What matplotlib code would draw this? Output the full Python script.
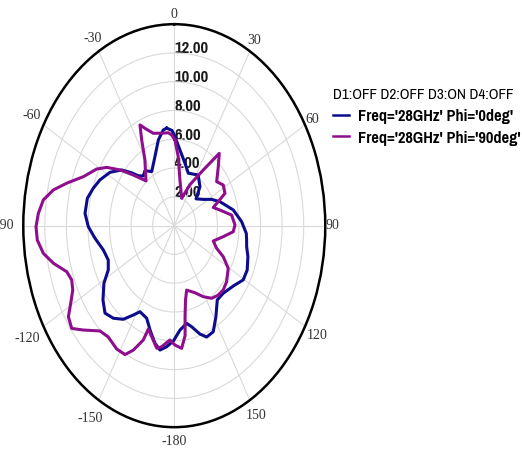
import numpy as np
import matplotlib
matplotlib.use("Agg")
import matplotlib.pyplot as plt
from matplotlib.lines import Line2D
from matplotlib.font_manager import FontProperties

# ---- data: gain pattern (theta in degrees, clockwise from top) ----
phi0_theta = [-5.9, -1.8, 0.6, 5.7, 12.9, 19.6, 32.2, 41.3, 47.3, 55.8, 62.2,
              68.5, 78.7, 87.4, 94.6, 98.4, 102.3, 107.5, 114.5, 120.5, 127.5,
              136.0, 142.3, 148.6, 153.9, 158.8, 162.5, 167.1, 170.4, 175.8,
              180.6, 184.8, 188.7, 192.4, 197.2, 201.7, 208.0, 211.5, 216.0,
              221.3, 226.6, 232.0, 238.5, 243.3, 248.7, 255.6, 263.2, 269.5,
              275.9, 283.3, 289.1, 294.8, 301.9, 308.5, 312.9, 316.1, 320.2,
              324.6, 330.9, 339.5, 346.1, 351.3]
phi0_gain = [6.81, 6.62, 6.18, 5.29, 4.45, 3.87, 4.16, 3.61, 2.75, 3.25, 3.92,
             4.55, 5.58, 6.25, 6.70, 6.78, 6.87, 7.16, 7.43, 7.42, 6.89,
             6.53, 6.52, 7.41, 8.21, 8.30, 7.89, 7.20, 6.88, 7.27,
             8.01, 8.44, 8.74, 8.36, 7.59, 6.92, 6.77, 7.28, 8.04,
             8.56, 8.84, 8.39, 7.65, 6.85, 6.57, 6.79, 7.40, 7.97,
             8.32, 8.28, 7.95, 7.59, 7.02, 6.22, 5.40, 4.82, 4.49,
             4.69, 4.30, 5.12, 6.14, 6.73]

phi90_theta = [0.6, 4.4, 9.4, 19.9, 27.0, 34.8, 39.7, 44.9, 52.1, 58.1, 64.4,
               67.7, 70.7, 75.6, 82.1, 89.5, 94.4, 99.5, 106.4, 111.8, 115.4,
               120.6, 128.7, 134.5, 140.0, 145.5, 151.4, 157.6, 165.6, 168.6,
               171.0, 172.5, 175.4, 179.6, 182.9, 187.9, 190.8, 195.2, 198.5,
               199.9, 203.7, 207.0, 211.9, 218.4, 223.3, 229.3, 233.1, 237.2,
               240.7, 244.6, 248.4, 252.2, 256.9, 261.0, 265.5, 269.7, 273.9,
               278.4, 282.5, 286.5, 292.0, 298.7, 302.9, 307.6, 312.8, 319.9,
               329.2, 333.1, 335.6, 338.1, 343.1, 349.7, 355.1, 357.8]
phi90_gain = [5.96, 4.81, 3.22, 2.02, 3.21, 4.71, 6.53, 5.78, 4.98, 5.35, 5.21,
              4.41, 3.83, 4.37, 5.37, 5.63, 5.48, 4.61, 3.77, 4.23, 5.03,
              5.81, 6.22, 6.37, 6.31, 6.12, 5.62, 5.04, 4.62, 5.27,
              6.40, 7.70, 8.55, 8.29, 7.95, 8.49, 8.67, 7.99, 7.57,
              8.45, 9.44, 10.05, 10.10, 9.86, 10.05, 11.12, 11.89, 11.68,
              11.01, 10.42, 10.23, 10.47, 11.51, 12.29, 12.74, 12.82, 12.63,
              12.27, 11.48, 10.40, 9.09, 8.20, 7.46, 6.35, 5.18, 4.07,
              5.32, 6.68, 7.69, 7.29, 6.71, 6.53, 6.48, 6.31]

series_labels = ["Freq='28GHz' Phi='0deg'", "Freq='28GHz' Phi='90deg'"]
series_colors = ["#0c0c8c", "#8e0e8e"]
legend_title = "D1:OFF D2:OFF D3:ON D4:OFF"

r_ticks = [2, 4, 6, 8, 10, 12]
r_max = 14
theta_ticks = [0, 30, 60, 90, 120, 150, 180, 210, 240, 270, 300, 330]
theta_tick_labels = ["0", "30", "60", "90", "120", "150", "-180",
                     "-150", "-120", "-90", "-60", "-30"]

SANS = ["Pragati Narrow", "Archivo Narrow", "PT Sans Narrow", "Liberation Sans"]
SERIF = ["Liberation Serif", "DejaVu Serif"]

fig = plt.figure(figsize=(5.22, 4.53), dpi=100)
ax = fig.add_axes([0.0446, 0.057, 0.5785, 0.8896], projection="polar")
ax.set_aspect("auto")
ax.set_theta_zero_location("N")
ax.set_theta_direction(-1)
ax.set_ylim(0, r_max)

# grid
ax.set_xticks(np.deg2rad(theta_ticks))
ax.set_xticks(np.deg2rad(np.arange(0, 360, 5)), minor=True)
ax.set_xticklabels([])
ax.set_yticks(r_ticks)
ax.set_yticklabels([])
ax.grid(True, which="major", color="#d9d9d9", linewidth=0.8)
ax.tick_params(axis="x", which="major", direction="in", length=8, width=1.6,
               color="black")
ax.tick_params(axis="x", which="minor", direction="in", length=5, width=1.3,
               color="black")
ax.tick_params(axis="y", length=0)
ax.spines["polar"].set_linewidth(1.8)
ax.spines["polar"].set_color("black")

# radial labels along the 0 deg spoke
for r in r_ticks:
    ax.text(0, r + 0.3, f"{r:.2f}", ha="left", va="center",
            family=SANS, weight="bold", fontsize=13, color="#1a1a1a",
            zorder=1)

# angle labels outside the rim
label_r = {0: 14.64, 30: 14.85, 60: 14.8, 90: 14.66, 120: 15.25, 150: 15.25,
           180: 15.0, 210: 15.5, 240: 15.7, 270: 15.75, 300: 15.3, 330: 15.05}
for ang, lbl in zip(theta_ticks, theta_tick_labels):
    ax.text(np.deg2rad(ang), label_r[ang], lbl, ha="center", va="center",
            family=SERIF, fontsize=10, color="#333333", clip_on=False)

# pattern curves (closed)
handles = []
for th, g, col in [(phi0_theta, phi0_gain, series_colors[0]),
                   (phi90_theta, phi90_gain, series_colors[1])]:
    t = np.deg2rad(np.append(th, th[0]))
    rr = np.append(g, g[0])
    ax.plot(t, rr, color=col, linewidth=2.2, zorder=3, solid_joinstyle="round")
    handles.append(Line2D([], [], color=col, linewidth=1.8))

fig.legend(handles, series_labels, loc="upper left",
           bbox_to_anchor=(0.638, 0.806), frameon=False,
           title=legend_title, alignment="left", borderpad=0,
           borderaxespad=0, handlelength=0.9, handletextpad=0.5,
           labelspacing=0.36,
           prop=FontProperties(family=SANS, weight="bold", size=12.8),
           title_fontproperties=FontProperties(family=SANS, size=11.9))

fig.savefig("out.png", dpi=100, facecolor="white")
